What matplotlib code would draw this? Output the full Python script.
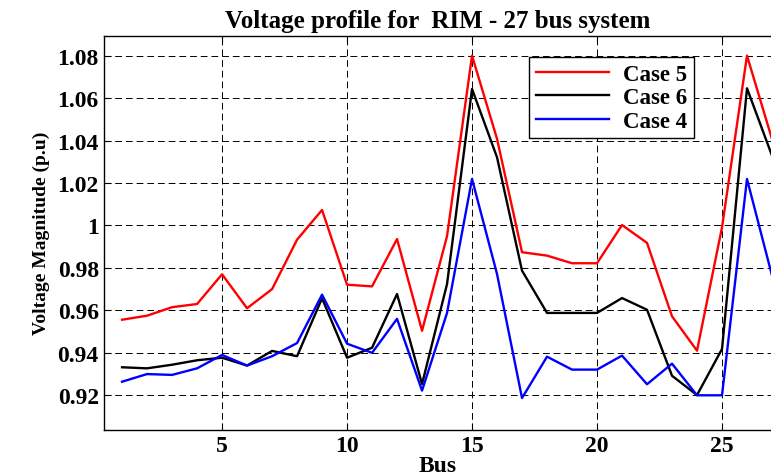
import matplotlib
matplotlib.use("Agg")
import matplotlib.pyplot as plt

bus = list(range(1, 28))
case5 = [0.9556, 0.9575, 0.9615, 0.9630, 0.9770, 0.9610, 0.9700, 0.9933, 1.0073, 0.9721,
         0.9713, 0.9936, 0.9504, 0.9950, 1.0800, 1.0408, 0.9874, 0.9858, 0.9822, 0.9822,
         1.0002, 0.9918, 0.9572, 0.9410, 0.9991, 1.0800, 1.0407]
case6 = [0.9332, 0.9327, 0.9344, 0.9365, 0.9377, 0.9340, 0.9409, 0.9384, 0.9657, 0.9377,
         0.9424, 0.9677, 0.9253, 0.9724, 1.0643, 1.0321, 0.9787, 0.9588, 0.9588, 0.9588,
         0.9658, 0.9603, 0.9292, 0.9201, 0.9418, 1.0646, 1.0329]
case4 = [0.9264, 0.9300, 0.9296, 0.9327, 0.9390, 0.9340, 0.9384, 0.9446, 0.9674, 0.9443,
         0.9400, 0.9560, 0.9222, 0.9588, 1.0219, 0.9771, 0.9187, 0.9382, 0.9321, 0.9321,
         0.9387, 0.9252, 0.9349, 0.9200, 0.9200, 1.0219, 0.9764]
xticks = [5, 10, 15, 20, 25]
yticks = [0.92, 0.94, 0.96, 0.98, 1.00, 1.02, 1.04, 1.06, 1.08]
ytick_labels = ['0.92', '0.94', '0.96', '0.98', '1', '1.02', '1.04', '1.06', '1.08']

serif = ['Liberation Serif', 'DejaVu Serif']
fig = plt.figure(figsize=(7.71, 4.77), dpi=100)
ax = fig.add_axes([0.1353, 0.0971, 0.8660, 0.8260])

ax.plot(bus, case5, color='#ff0000', lw=1.7, label='Case 5')
ax.plot(bus, case6, color='black', lw=1.7, label='Case 6')
ax.plot(bus, case4, color='#0000ff', lw=1.7, label='Case 4')

ax.set_xlim(0.29, 27.0)
ax.set_ylim(0.9038, 1.0894)
ax.set_xticks(xticks)
ax.set_yticks(yticks)
ax.set_xticklabels([str(t) for t in xticks], fontfamily=serif, fontweight='bold', fontsize=17)
ax.set_yticklabels(ytick_labels, fontfamily=serif, fontweight='bold', fontsize=17)
ax.tick_params(direction='in', top=True, right=False, length=5, width=0.8, pad=4)
ax.grid(True, color='black', linestyle=(0, (7, 4)), linewidth=0.7)
ax.spines['right'].set_visible(False)
for s in ['left', 'bottom', 'top']:
    ax.spines[s].set_linewidth(1.0)

ax.set_title('Voltage profile for  RIM - 27 bus system', fontfamily=serif,
             fontweight='bold', fontsize=18, pad=6)
ax.set_xlabel('Bus', fontfamily=serif, fontweight='bold', fontsize=17, labelpad=-1)
ax.set_ylabel('Voltage Magnitude (p.u)', fontfamily=serif, fontweight='bold', fontsize=14, labelpad=5)

leg = ax.legend(loc='upper right', bbox_to_anchor=(0.883, 0.946),
                prop={'family': serif, 'weight': 'bold', 'size': 16.5},
                frameon=True, fancybox=False, edgecolor='black', framealpha=1,
                handlelength=3.2, borderpad=0.3, labelspacing=0.1, handletextpad=0.6,
                borderaxespad=0)
leg.get_frame().set_linewidth(1.0)

fig.savefig('out.png', dpi=100)
